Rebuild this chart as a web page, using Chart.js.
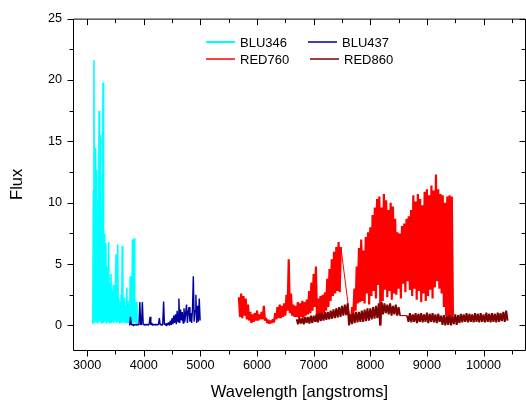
<!DOCTYPE html>
<html>
<head>
<meta charset="utf-8">
<script src="https://cdn.jsdelivr.net/npm/chart.js@4.4.1/dist/chart.umd.min.js"></script>
<style>
  html, body { margin: 0; padding: 0; background: #fff; }
  canvas { display: block; }
</style>
</head>
<body>
<canvas id="chart" width="526" height="408"></canvas>
<script>
const blu346Start = 3100, blu346Step = 10;
const blu346Flux = [
  0.1, 11.0, 21.6, 0.2, 9.5, 14.5, 0.3, 12.7, 0.2, 10.2,
  0.4, 17.5, 0.3, 9.8, 15.5, 0.2, 9.0, 0.3, 19.8, 0.2,
  7.5, 0.3, 6.2, 6.7, 0.2, 4.8, 0.3, 3.9, 6.8, 0.2,
  3.5, 0.3, 4.2, 0.2, 2.8, 0.3, 3.3, 0.2, 2.6, 0.3,
  3.6, 5.8, 0.2, 2.4, 6.6, 0.3, 2.2, 0.2, 1.9, 0.3,
  2.5, 0.2, 6.5, 0.3, 1.8, 0.2, 2.3, 0.3, 1.6, 0.2,
  3.1, 0.3, 2.0, 0.2, 1.8, 0.3, 4.0, 0.2, 1.7, 0.3,
  7.0, 0.2, 2.5, 7.1, 0.3, 1.4, 0.2, 1.9, 0.1
];

const blu437Start = 3750, blu437Step = 15;
const blu437Flux = [
  0.0, 0.7, 0.05, 0.1, 0.0, 0.1, 0.05, 0.1, 0.0, 0.1,
  0.05, 0.1, 1.9, 0.05, 0.1, 1.9, 0.05, 0.1, 0.0, 0.1,
  0.05, 0.1, 0.0, 0.1, 0.7, 0.05, 0.2, 0.0, 0.1, 0.05,
  0.1, 0.0, 0.1, 0.05, 0.1, 0.6, 0.05, 0.1, 0.0, 0.1,
  1.95, 0.05, 0.15, 0.0, 0.2, 0.05, 0.25, 0.0, 0.4, 0.05,
  0.6, 0.1, 0.8, 0.2, 0.9, 0.1, 1.2, 0.3, 2.2, 0.2,
  1.3, 0.4, 1.1, 0.2, 1.4, 0.3, 1.0, 1.7, 0.2, 1.1,
  1.5, 0.3, 1.0, 0.2, 1.3, 4.0, 0.3, 1.2, 2.5, 0.2,
  1.6, 0.3, 2.2, 0.4
];

const red760aStart = 5680, red760aStep = 20;
const red760aFlux = [
  2.3, 0.7, 2.6, 0.6, 2.4, 0.8, 2.2, 0.5, 1.7, 0.4,
  1.1, 0.2, 0.9, 0.3, 1.0, 0.4, 1.2, 0.4, 0.9, 0.5,
  1.1, 0.5, 1.6, 0.4, 0.6, 0.2, 0.45, 0.15, 0.4, 0.2,
  0.5, 0.25, 1.0, 0.5, 1.5, 0.6, 1.7, 0.6, 1.6, 0.7,
  1.8, 0.8, 2.5, 1.2, 5.4, 1.0, 2.6, 0.8, 1.7, 0.7,
  1.6, 0.7, 1.9, 0.6, 1.8, 0.7, 2.0, 0.6, 1.9, 0.8,
  2.1, 0.9, 2.8, 1.0, 3.5, 1.2, 4.2, 1.5, 4.8, 0.3,
  2.2, 0.6, 2.4, 0.8, 2.5, 1.0, 2.7, 1.2, 3.8, 1.5,
  4.6, 2.0, 5.4, 2.4, 6.0, 2.6, 6.4, 2.8, 6.8, 2.7,
  6.4
];
const red760bStart = 7640, red760bStep = 20;
const red760bFlux = [
  0.6, 0.4, 1.5, 0.8, 3.0, 1.2, 4.8, 1.8, 6.3, 1.9,
  7.0, 2.0, 6.1, 1.8, 7.2, 2.6, 7.6, 1.7, 8.0, 2.4,
  9.0, 2.8, 9.6, 2.2, 10.3, 3.3, 10.5, 0.0, 9.6, 2.0,
  10.7, 2.9, 10.2, 2.3, 9.4, 2.8, 10.0, 2.1, 9.7, 2.6,
  8.7, 2.5, 7.6, 3.0, 7.5, 2.2, 8.1, 3.4, 8.3, 2.7,
  8.7, 3.6, 8.9, 2.9, 9.4, 2.4, 10.6, 3.0, 10.1, 2.1,
  10.7, 2.8, 10.3, 1.9, 9.8, 2.6, 10.9, 2.0, 11.1, 2.4,
  10.6, 2.9, 11.4, 2.2, 11.0, 3.1, 12.3, 3.6, 11.1, 3.0,
  10.7, 2.6, 10.6, 1.5, 10.0, 0.8, 10.5, 0.6, 10.6, 0.7,
  10.5, 0.8
];

const red860aStart = 6700, red860aStep = 25;
const red860aFlux = [
  0.5, 0.1, 0.6, 0.15, 0.6, 0.1, 0.7, 0.2, 0.7, 0.15,
  0.8, 0.2, 0.8, 0.3, 0.9, 0.25, 1.0, 0.35, 1.0, 0.4,
  1.1, 0.45, 1.1, 0.5, 1.2, 0.55, 1.3, 0.6, 1.4, 0.65,
  1.5, 0.7, 1.6, 0.8, 1.7, 0.85, 1.8, 0.0, 0.9, 0.1,
  1.0, 0.2, 1.1, 0.25, 1.1, 0.3, 1.2, 0.3, 1.3, 0.35,
  1.4, 0.4, 1.4, 0.5, 1.5, 0.55, 1.6, 0.6, 1.8, 0.0,
  1.9, 0.9, 1.8, 1.0, 1.7, 0.9, 1.8, 0.8, 1.6, 0.9,
  1.7, 0.8, 1.5, 0.8
];
const red860bStart = 8650, red860bStep = 25;
const red860bFlux = [
  0.8, 0.3, 1.0, 0.25, 0.9, 0.3, 1.0, 0.2, 0.95, 0.3,
  1.0, 0.25, 0.9, 0.3, 1.05, 0.2, 0.95, 0.3, 1.0, 0.25,
  0.9, 0.2, 0.95, 0.3, 0.8, 0.05, 0.85, 0.0, 0.8, 0.05,
  0.85, 0.0, 0.8, 0.1, 0.9, 0.05, 0.85, 0.2, 0.95, 0.25,
  0.9, 0.3, 1.0, 0.25, 0.95, 0.3, 0.9, 0.25, 1.0, 0.3,
  0.95, 0.25, 1.0, 0.3, 0.9, 0.25, 1.05, 0.3, 0.95, 0.25,
  1.0, 0.3, 0.95, 0.25, 1.05, 0.3, 1.0, 0.35, 1.1, 0.3,
  1.2, 0.4
];

const seriesNames = ['BLU346', 'BLU437', 'RED760', 'RED860'];
const seriesColors = ['#00FFFF', '#00009A', '#FF0000', '#7F0000'];
const seriesWidths = [1.6, 1.4, 2.2, 2];

const xMajorTicks = [3000, 4000, 5000, 6000, 7000, 8000, 9000, 10000];
const xMinorTicks = [3500, 4500, 5500, 6500, 7500, 8500, 9500, 10500];
const yMajorTicks = [0, 5, 10, 15, 20, 25];
const yMinorTicks = [2.5, 7.5, 12.5, 17.5, 22.5];

const FONT = "'Liberation Sans', Arial, sans-serif";

const toPoints = (start, step, flux) => flux.map((v, i) => ({ x: start + i * step, y: v }));

const seriesData = [
  toPoints(blu346Start, blu346Step, blu346Flux),
  toPoints(blu437Start, blu437Step, blu437Flux),
  toPoints(red760aStart, red760aStep, red760aFlux).concat(toPoints(red760bStart, red760bStep, red760bFlux)),
  toPoints(red860aStart, red860aStep, red860aFlux).concat(toPoints(red860bStart, red860bStep, red860bFlux))
];

// frame with ticks on all four sides (Origin style)
const framePlugin = {
  id: 'frame',
  afterDatasetsDraw(chart) {
    const { ctx, chartArea: a, scales: { x, y } } = chart;
    const L = a.left + 0.5, R = a.right - 0.5, T = a.top + 0.5, B = a.bottom + 0.5;
    ctx.save();
    ctx.strokeStyle = '#000';
    ctx.lineWidth = 1;
    ctx.beginPath();
    ctx.moveTo(L, T); ctx.lineTo(R, T); ctx.lineTo(R, B); ctx.lineTo(L, B); ctx.closePath();
    const xt = (v, len) => {
      const p = Math.round(x.getPixelForValue(v)) + 0.5;
      ctx.moveTo(p, B); ctx.lineTo(p, B + len);
      ctx.moveTo(p, T); ctx.lineTo(p, T + len);
    };
    const yt = (v, len) => {
      const p = Math.round(y.getPixelForValue(v)) + 0.5;
      ctx.moveTo(L, p); ctx.lineTo(L - len, p);
      ctx.moveTo(R, p); ctx.lineTo(R - len, p);
    };
    xMajorTicks.forEach(v => xt(v, 6));
    xMinorTicks.forEach(v => xt(v, 4));
    yMajorTicks.forEach(v => yt(v, 6));
    yMinorTicks.forEach(v => yt(v, 4));
    ctx.stroke();
    ctx.restore();
  }
};

// two-column legend inside the plot
const legendPlugin = {
  id: 'gridLegend',
  afterDraw(chart) {
    const { ctx } = chart;
    const slots = [
      { x: 206, y: 42 }, { x: 308, y: 42 },
      { x: 206, y: 59 }, { x: 310, y: 59 }
    ];
    ctx.save();
    ctx.font = '13px ' + FONT;
    ctx.textBaseline = 'middle';
    seriesNames.forEach((name, i) => {
      const s = slots[i];
      ctx.strokeStyle = seriesColors[i];
      ctx.lineWidth = i === 0 ? 2 : 1.5;
      ctx.beginPath();
      ctx.moveTo(s.x, s.y); ctx.lineTo(s.x + 29, s.y);
      ctx.stroke();
      ctx.fillStyle = '#000';
      ctx.fillText(name, s.x + 34, s.y + 1);
    });
    ctx.restore();
  }
};

// gaps in the spectra are bridged by a thin straight line
const gapWidth = c => (c.p1.parsed.x - c.p0.parsed.x > 60 ? 1 : undefined);

new Chart(document.getElementById('chart'), {
  type: 'line',
  data: {
    datasets: seriesNames.map((name, i) => ({
      label: name,
      data: seriesData[i],
      borderColor: seriesColors[i],
      backgroundColor: seriesColors[i],
      borderWidth: seriesWidths[i],
      borderJoinStyle: 'bevel',
      pointRadius: 0,
      tension: 0,
      fill: false,
      order: 4 - i,
      segment: { borderWidth: gapWidth }
    }))
  },
  options: {
    responsive: false,
    animation: false,
    events: [],
    layout: { padding: { top: 13, right: 0, left: 0, bottom: 0 } },
    plugins: { legend: { display: false }, tooltip: { enabled: false } },
    scales: {
      x: {
        type: 'linear', min: 2750, max: 10750,
        afterFit: s => { s.height = 58; },
        afterBuildTicks: s => { s.ticks = xMajorTicks.map(v => ({ value: v })); },
        grid: { display: false, drawTicks: false },
        border: { display: false },
        ticks: { autoSkip: false, maxRotation: 0, padding: 8, color: '#000', font: { family: FONT, size: 12.7 }, callback: v => String(v) },
        title: { display: true, text: 'Wavelength [angstroms]', color: '#000', padding: { top: 0, bottom: 6 }, font: { family: FONT, size: 16.5 } }
      },
      y: {
        type: 'linear', min: -2, max: 25,
        afterFit: s => { s.width = 73; },
        afterBuildTicks: s => { s.ticks = yMajorTicks.map(v => ({ value: v })); },
        grid: { display: false, drawTicks: false },
        border: { display: false },
        ticks: { autoSkip: false, padding: 11, color: '#000', font: { family: FONT, size: 12.7 }, callback: v => String(v) },
        title: { display: true, text: 'Flux', color: '#000', padding: { top: 8, bottom: 0 }, font: { family: FONT, size: 16.5 } }
      }
    }
  },
  plugins: [framePlugin, legendPlugin]
});
</script>
</body>
</html>
